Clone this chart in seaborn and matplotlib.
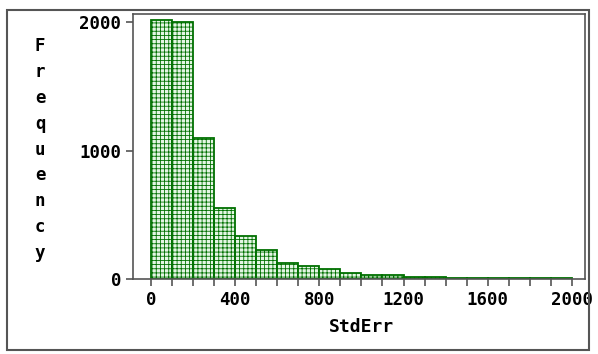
import numpy as np
import matplotlib
matplotlib.use("Agg")
import matplotlib.pyplot as plt
import seaborn as sns

# histogram bins (StdErr) and counts
bin_edges = [0, 100, 200, 300, 400, 500, 600, 700, 800, 900, 1000,
             1100, 1200, 1300, 1400, 1500, 1600, 1700, 1800, 1900, 2000]
counts = [2015, 2005, 1097, 556, 337, 224, 127, 101, 80, 44,
          31, 33, 18, 18, 6, 6, 6, 6, 6, 6]
x_ticks = [0, 400, 800, 1200, 1600, 2000]
y_ticks = [0, 1000, 2000]

mids = [(a + b) / 2 for a, b in zip(bin_edges[:-1], bin_edges[1:])]

sns.set_style("white")
plt.rcParams["font.family"] = ["DejaVu Sans Mono"]
plt.rcParams["hatch.linewidth"] = 0.6
plt.rcParams["text.color"] = "black"
plt.rcParams["xtick.color"] = "black"
plt.rcParams["ytick.color"] = "black"

fig = plt.figure(figsize=(5.98, 3.54), dpi=100)
ax = fig.add_axes([133 / 598, 75 / 354, 452 / 598, 265 / 354])

sns.histplot(x=mids, weights=counts, bins=bin_edges, ax=ax,
             color="#e4f6e4", edgecolor="#007000", linewidth=1.3,
             alpha=1, hatch="++++")

ax.set_xlim(-85, 2062)
ax.set_ylim(0, 2065)
ax.set_xticks(x_ticks)
ax.set_xticks(bin_edges, minor=True)
ax.set_yticks(y_ticks)
ax.tick_params(axis="both", which="both", direction="out", length=5,
               width=1.2, color="#555555", labelsize=12.5, bottom=True, left=True,
               labelcolor="black")
for lab in ax.get_xticklabels() + ax.get_yticklabels():
    lab.set_fontweight("bold")
ax.set_xlabel("")
ax.set_ylabel("")
for side in ["left", "top", "right", "bottom"]:
    ax.spines[side].set_color("#555555")
    ax.spines[side].set_linewidth(1.2)

# stacked vertical y label
for i, ch in enumerate("Frequency"):
    fig.text(40 / 598, 1 - (46 + i * 25.9) / 354, ch, ha="center", va="center",
             fontsize=12.5, fontweight="bold", color="black")
fig.text(362 / 598, 1 - 327 / 354, "StdErr", ha="center", va="center",
         fontsize=13, fontweight="bold", color="black")

# outer frame
fig.patches.append(plt.Rectangle((7 / 598, 4 / 354), 582 / 598, 340 / 354,
                                 transform=fig.transFigure, fill=False,
                                 edgecolor="#555555", linewidth=1.5))

fig.savefig("out.png", dpi=100)
